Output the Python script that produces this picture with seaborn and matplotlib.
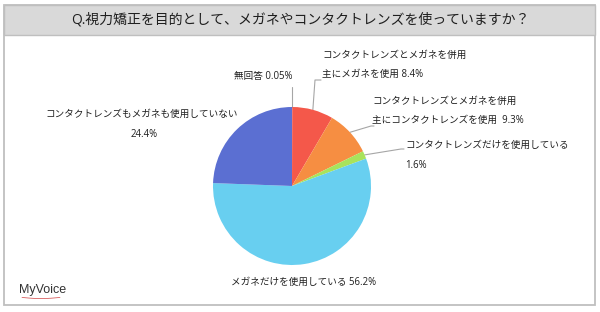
import numpy as np
import matplotlib
matplotlib.use("Agg")
import matplotlib.pyplot as plt
from matplotlib.patches import Rectangle
import seaborn as sns

# ---- data ----
categories = [
    "無回答",
    "コンタクトレンズとメガネを併用\n主にメガネを使用",
    "コンタクトレンズとメガネを併用\n主にコンタクトレンズを使用",
    "コンタクトレンズだけを使用している",
    "メガネだけを使用している",
    "コンタクトレンズもメガネも使用していない",
]
values = [0.05, 8.4, 9.3, 1.6, 56.2, 24.4]
value_labels = ["0.05%", "8.4%", "9.3%", "1.6%", "56.2%", "24.4%"]
colors = ["#5B6FD2", "#F4584A", "#F68E42", "#A8E35C", "#68CFF0", "#5B6FD2"]
title = "Q.視力矯正を目的として、メガネやコンタクトレンズを使っていますか？"

sns.set_theme(style="white")
plt.rcParams["font.family"] = ["Open Sans", "Noto Sans CJK JP", "DejaVu Sans"]

W, H = 600, 312
fig = plt.figure(figsize=(W / 100, H / 100), dpi=100)
fig.patch.set_facecolor("white")

# overlay axes in pixel coordinates (top-left origin)
ov = fig.add_axes([0, 0, 1, 1])
ov.set_xlim(0, W)
ov.set_ylim(H, 0)
ov.axis("off")

# frame and title band
ov.add_patch(Rectangle((3.5, 4.5), 591.5, 300.5, facecolor="white",
                       edgecolor="#BFBFBF", lw=1.3, zorder=0))
ov.add_patch(Rectangle((3.5, 4.5), 591.5, 30.5, facecolor="#D9D9D9",
                       edgecolor="#BFBFBF", lw=1.0, zorder=1))
ov.text(300, 19.5, title, ha="center", va="center", fontsize=10,
        color="#1F1F1F", zorder=2)

# pie axes
cx, cy, r = 292, 186, 79
pa = fig.add_axes([(cx - r) / W, (H - cy - r) / H, 2 * r / W, 2 * r / H])
pa.patch.set_alpha(0)
wedges, _ = pa.pie(values, colors=colors, startangle=90, counterclock=False,
                   radius=1.0, wedgeprops=dict(linewidth=0))
pa.set_xlim(-1, 1)
pa.set_ylim(-1, 1)
pa.set_aspect("equal")
pa.axis("off")


def edge_px(w, frac=1.0):
    ang = np.deg2rad((w.theta1 + w.theta2) / 2)
    pt = pa.transData.transform((frac * np.cos(ang), frac * np.sin(ang)))
    return ov.transData.inverted().transform(pt)


lc = "#A6A6A6"
fs = 6.9
tc = "#1F1F1F"

# 無回答
ex, ey = edge_px(wedges[0])
ov.plot([ex, ex], [ey, 87], color=lc, lw=0.8)
ov.text(263, 77, f"{categories[0]} {value_labels[0]}", ha="center", va="center",
        fontsize=fs, color=tc)

# 8.4%
ex, ey = edge_px(wedges[1])
ov.plot([ex, 315, 321], [ey, 80, 80], color=lc, lw=0.8)
l1, l2 = categories[1].split("\n")
ov.text(322, 55, l1, ha="left", va="center", fontsize=fs, color=tc)
ov.text(322, 74.5, f"{l2} {value_labels[1]}", ha="left", va="center", fontsize=fs, color=tc)

# 9.3%
ex, ey = edge_px(wedges[2])
ov.plot([ex, 371, 374], [ey, 126, 126], color=lc, lw=0.8)
l1, l2 = categories[2].split("\n")
ov.text(372, 101, l1, ha="left", va="center", fontsize=fs, color=tc)
ov.text(372, 120.5, f"{l2}  {value_labels[2]}", ha="left", va="center", fontsize=fs, color=tc)

# 1.6%
ex, ey = edge_px(wedges[3])
ov.plot([ex, 401, 404], [ey, 149, 149], color=lc, lw=0.8)
ov.text(405, 145, categories[3], ha="left", va="center", fontsize=fs, color=tc)
ov.text(405, 165.5, value_labels[3], ha="left", va="center", fontsize=fs, color=tc)

# 56.2%
ov.text(304, 282, f"{categories[4]} {value_labels[4]}", ha="center", va="center",
        fontsize=fs, color=tc)

# 24.4%
ov.text(142, 114, categories[5], ha="center", va="center", fontsize=fs, color=tc)
ov.text(144, 134.5, value_labels[5], ha="center", va="center", fontsize=fs, color=tc)

# logo
ov.text(19, 290, "MyVoice", ha="left", va="center", fontsize=9, color="#333333",
        family=["Liberation Sans", "DejaVu Sans"])
xs = np.linspace(22, 60, 30)
ov.plot(xs, 297.5 + 1.0 * np.sin((xs - 22) / 38 * np.pi), color="#D04040", lw=0.5)

fig.savefig("out.png", dpi=100, facecolor="white")
